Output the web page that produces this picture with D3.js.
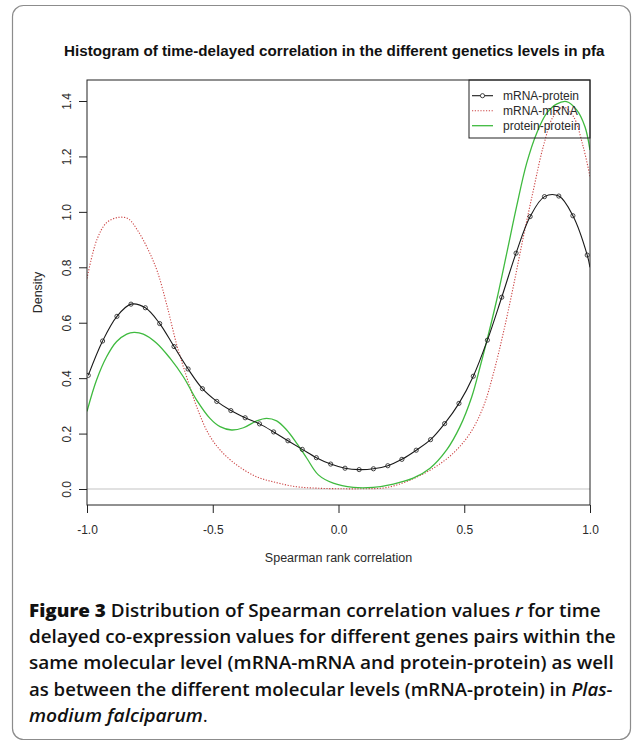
<!DOCTYPE html>
<html>
<head>
<meta charset="utf-8">
<script src="https://cdn.jsdelivr.net/npm/d3@7"></script>
<style>
  html, body { margin: 0; padding: 0; background: #fff; }
  svg { display: block; }
</style>
</head>
<body>
<svg id="chart" width="636" height="743"></svg>
<script>
// ---------------- data ----------------
const chartTitle = "Histogram of time-delayed correlation in the different genetics levels in pfa";
const xLabel = "Spearman rank correlation";
const yLabel = "Density";
const xTicks = [-1.0, -0.5, 0.0, 0.5, 1.0];
const yTicks = [0.0, 0.2, 0.4, 0.6, 0.8, 1.0, 1.2, 1.4];
const seriesNames = ["mRNA-protein", "mRNA-mRNA", "protein-protein"];

// mRNA-protein (black line with open circles)
const mrnaProteinX = [-0.995,-0.938,-0.881,-0.825,-0.768,-0.711,-0.654,-0.598,-0.541,-0.484,-0.428,-0.371,-0.314,-0.258,-0.201,-0.144,-0.088,-0.031,0.026,0.082,0.139,0.196,0.252,0.309,0.366,0.422,0.479,0.536,0.592,0.649,0.706,0.762,0.819,0.876,0.932,0.989,1.0];
const mrnaProteinY = [0.41,0.534,0.623,0.667,0.654,0.597,0.514,0.433,0.362,0.316,0.283,0.257,0.235,0.206,0.174,0.143,0.113,0.090,0.075,0.070,0.073,0.084,0.107,0.140,0.178,0.236,0.309,0.407,0.537,0.692,0.851,0.983,1.055,1.057,0.986,0.844,0.80];

// mRNA-mRNA (red dotted)
const mrnaMrnaX = [-1.0,-0.961,-0.922,-0.876,-0.836,-0.796,-0.756,-0.720,-0.683,-0.643,-0.604,-0.564,-0.518,-0.471,-0.405,-0.325,-0.246,-0.166,-0.087,0.0,0.1,0.19,0.284,0.377,0.456,0.523,0.576,0.616,0.655,0.695,0.735,0.775,0.814,0.854,0.894,0.934,0.973,1.0];
const mrnaMrnaY = [0.76,0.899,0.961,0.980,0.975,0.929,0.862,0.784,0.665,0.52,0.405,0.297,0.201,0.141,0.087,0.044,0.023,0.008,0.003,0.001,0.001,0.005,0.032,0.075,0.129,0.201,0.297,0.417,0.562,0.730,0.910,1.079,1.235,1.344,1.378,1.344,1.235,1.127];

// protein-protein (green solid)
const proteinProteinX = [-1.0,-0.962,-0.922,-0.882,-0.842,-0.813,-0.776,-0.723,-0.670,-0.617,-0.564,-0.511,-0.471,-0.425,-0.378,-0.325,-0.286,-0.246,-0.206,-0.166,-0.126,-0.080,-0.021,0.059,0.138,0.218,0.297,0.364,0.430,0.483,0.530,0.563,0.589,0.629,0.669,0.708,0.748,0.788,0.828,0.867,0.907,0.947,0.980,1.0];
const proteinProteinY = [0.28,0.393,0.477,0.532,0.559,0.565,0.559,0.526,0.472,0.405,0.321,0.255,0.225,0.213,0.221,0.246,0.255,0.246,0.213,0.165,0.111,0.051,0.021,0.006,0.006,0.018,0.039,0.075,0.141,0.225,0.333,0.441,0.532,0.682,0.851,1.019,1.175,1.284,1.356,1.389,1.398,1.368,1.307,1.223];

const captionLines = [
  [{t:"Figure 3", w:800}, {t:" Distribution of Spearman correlation values "}, {t:"r", i:true}, {t:" for time"}],
  [{t:"delayed co-expression values for different genes pairs within the"}],
  [{t:"same molecular level (mRNA-mRNA and protein-protein) as well"}],
  [{t:"as between the different molecular levels (mRNA-protein) in "}, {t:"Plas-", i:true}],
  [{t:"modium falciparum", i:true}, {t:".", w:400}]
];
const captionWidths = [572, 587, 585, 584, 179];

// ---------------- layout ----------------
const svg = d3.select("#chart");
const plot = {left: 87, right: 590, top: 80, bottom: 505};
const x = d3.scaleLinear().domain([-1, 1]).range([plot.left, plot.right]);
const y = d3.scaleLinear().domain([-0.0577, 1.4758]).range([plot.bottom, plot.top]);

const colBlack = "#1a1a1a", colRed = "#cc4444", colGreen = "#3fba3f";
const axisFont = "'Liberation Sans', Arial, sans-serif";

// outer rounded frame
svg.append("rect").attr("x", 12.5).attr("y", 5.5).attr("width", 618).attr("height", 734)
  .attr("rx", 11).attr("fill", "none").attr("stroke", "#8c8c8c").attr("stroke-width", 1.2);

function fitWidth(sel, x0, w) {
  const len = sel.node().getComputedTextLength();
  const s = w / len;
  sel.attr("transform", `translate(${x0},0) scale(${s},1) translate(${-x0},0)`);
}

// title
const titleSel = svg.append("text").attr("x", 64).attr("y", 56.5)
  .attr("font-family", axisFont).attr("font-weight", "bold").attr("font-size", 15.5)
  .attr("fill", "#111").text(chartTitle);
fitWidth(titleSel, 64, 541);

// zero line
svg.append("line").attr("x1", plot.left).attr("x2", plot.right)
  .attr("y1", y(0)).attr("y2", y(0)).attr("stroke", "#c4c4c4").attr("stroke-width", 1.2);

// curves
function series(xs, ys) { return xs.map((v, i) => [v, ys[i]]); }
const lineGen = d3.line().x(d => x(d[0])).y(d => y(d[1])).curve(d3.curveCatmullRom.alpha(0.5));

const clip = svg.append("clipPath").attr("id", "pclip").append("rect")
  .attr("x", plot.left).attr("y", plot.top).attr("width", plot.right - plot.left).attr("height", plot.bottom - plot.top);
const g = svg.append("g").attr("clip-path", "url(#pclip)");

g.append("path").attr("d", lineGen(series(mrnaMrnaX, mrnaMrnaY)))
  .attr("fill", "none").attr("stroke", colRed).attr("stroke-width", 1.1).attr("stroke-dasharray", "1.2,1.6");
g.append("path").attr("d", lineGen(series(proteinProteinX, proteinProteinY)))
  .attr("fill", "none").attr("stroke", colGreen).attr("stroke-width", 1.3);
const mp = series(mrnaProteinX, mrnaProteinY);
g.append("path").attr("d", lineGen(mp))
  .attr("fill", "none").attr("stroke", colBlack).attr("stroke-width", 1.1);
g.selectAll("circle.mp").data(mp.slice(0, mp.length - 1)).enter().append("circle")
  .attr("class", "mp").attr("cx", d => x(d[0])).attr("cy", d => y(d[1])).attr("r", 2.1)
  .attr("fill", "none").attr("stroke", colBlack).attr("stroke-width", 0.8);

// plot box
svg.append("rect").attr("x", plot.left).attr("y", plot.top)
  .attr("width", plot.right - plot.left).attr("height", plot.bottom - plot.top)
  .attr("fill", "none").attr("stroke", "#222").attr("stroke-width", 1);

// axes
const xAxis = svg.append("g").attr("transform", `translate(0,${plot.bottom})`)
  .call(d3.axisBottom(x).tickValues(xTicks).tickFormat(d3.format(".1f")).tickSize(8).tickPadding(12));
const yAxis = svg.append("g").attr("transform", `translate(${plot.left},0)`)
  .call(d3.axisLeft(y).tickValues(yTicks).tickFormat(d3.format(".1f")).tickSize(8));
[xAxis, yAxis].forEach(a => {
  a.select(".domain").remove();
  a.selectAll(".tick line").attr("stroke", "#222");
  a.selectAll("text").attr("font-family", axisFont).attr("font-size", 12).attr("fill", "#2a2a2a");
});
xAxis.selectAll("text").text(d => d3.format(".1f")(d).replace("−", "-"));
yAxis.selectAll(".tick text").attr("transform", "rotate(-90)").attr("x", 0).attr("y", -16)
  .attr("dy", 0).attr("text-anchor", "middle");

// axis titles
svg.append("text").attr("x", (plot.left + plot.right) / 2).attr("y", 561.5)
  .attr("text-anchor", "middle").attr("font-family", axisFont).attr("font-size", 12.5)
  .attr("fill", "#2a2a2a").text(xLabel);
svg.append("text").attr("transform", `translate(42,${(plot.top + plot.bottom) / 2}) rotate(-90)`)
  .attr("text-anchor", "middle").attr("font-family", axisFont).attr("font-size", 12.5)
  .attr("fill", "#2a2a2a").text(yLabel);

// legend
const leg = {x0: 469, y0: plot.top, w: plot.right - 469, h: 58, row0: 95.7, dy: 15};
svg.append("rect").attr("x", leg.x0).attr("y", leg.y0).attr("width", leg.w).attr("height", leg.h)
  .attr("fill", "none").attr("stroke", "#222").attr("stroke-width", 1);
const legStyles = [
  {stroke: colBlack, dash: null, marker: true},
  {stroke: colRed, dash: "1.2,1.6", marker: false},
  {stroke: colGreen, dash: null, marker: false}
];
seriesNames.forEach((name, i) => {
  const yy = leg.row0 + i * leg.dy;
  const st = legStyles[i];
  const ln = svg.append("line").attr("x1", 472).attr("x2", 493).attr("y1", yy).attr("y2", yy)
    .attr("stroke", st.stroke).attr("stroke-width", i === 2 ? 1.3 : 1.1);
  if (st.dash) ln.attr("stroke-dasharray", st.dash);
  if (st.marker) svg.append("circle").attr("cx", 482.5).attr("cy", yy).attr("r", 2.1)
    .attr("fill", "white").attr("stroke", colBlack).attr("stroke-width", 0.8);
  svg.append("text").attr("x", 503).attr("y", yy + 4.3).attr("font-family", axisFont)
    .attr("font-size", 12).attr("fill", "#2a2a2a").text(name);
});

// caption
const capFont = "'Open Sans', 'Noto Sans', sans-serif";
captionLines.forEach((parts, i) => {
  const t = svg.append("text").attr("x", 29).attr("y", 617 + i * 26.2)
    .attr("font-family", capFont).attr("font-size", 17.5).attr("font-weight", 600).attr("fill", "#111");
  parts.forEach(p => {
    const ts = t.append("tspan").text(p.t);
    if (p.i) ts.attr("font-style", "italic");
    if (p.w) ts.attr("font-weight", p.w);
  });
  fitWidth(t, 29, captionWidths[i]);
});
</script>
</body>
</html>
